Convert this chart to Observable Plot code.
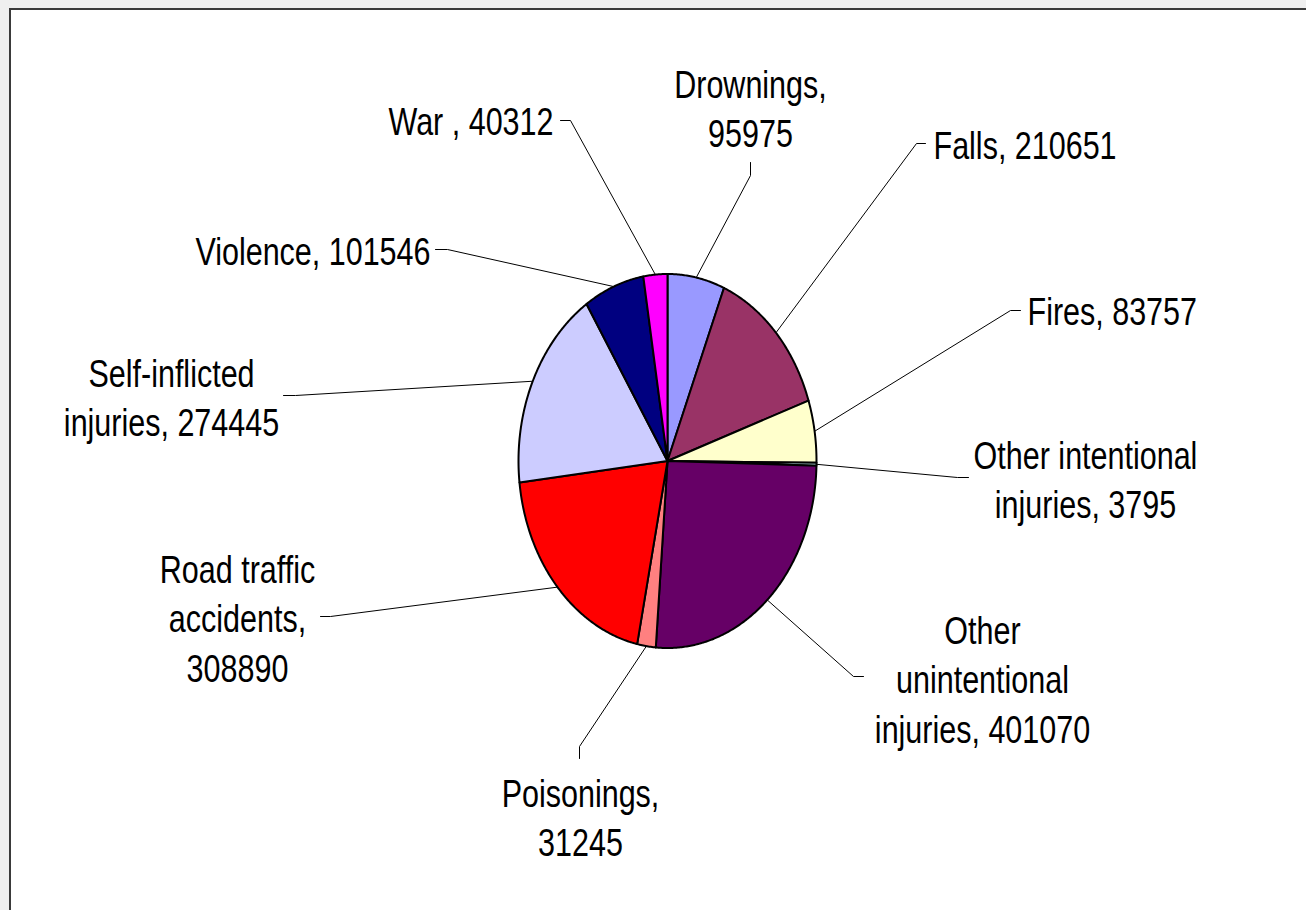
<!DOCTYPE html>
<html>
<head>
<meta charset="utf-8">
<script src="https://cdn.jsdelivr.net/npm/d3@7"></script>
<script src="https://cdn.jsdelivr.net/npm/@observablehq/plot@0.6"></script>
<style>
html, body { margin: 0; padding: 0; width: 1306px; height: 910px; overflow: hidden; background: #efefef; }
#frame { position: absolute; left: 9px; top: 8px; right: 0; bottom: 0; background: #ffffff;
  border-left: 2px solid #3a3a3a; border-top: 2px solid #3a3a3a; overflow: hidden; }
#chart { position: absolute; left: -11px; top: -10px; }
</style>
</head>
<body>
<div id="frame"><div id="chart"></div></div>
<script>
// ---- data ----
const categories = [
  "Drownings", "Falls", "Fires", "Other intentional\ninjuries", "Other\nunintentional\ninjuries",
  "Poisonings", "Road traffic\naccidents", "Self-inflicted\ninjuries", "Violence", "War "
];
const values = [95975, 210651, 83757, 3795, 401070, 31245, 308890, 274445, 101546, 40312];
const colors = ["#9999FF", "#993366", "#FFFFCC", "#CCFFFF", "#660066", "#FF8080", "#FF0000", "#CCCCFF", "#000080", "#FF00FF"];

// ---- layout (pixels) ----
const pie = {cx: 667, cy: 460.5, rx: 149, ry: 187};
const labelSep = [",\n", ", ", ", ", ", ", ", ", ",\n", ",\n", ", ", ", ", ", "];
const labelAnchor = [[750, 106], [933, 143], [1027, 309], [1085, 477], [982, 677],
  [580, 815], [237, 616], [171, 395], [430, 249], [553, 119]];
const labelAlign = ["middle", "start", "start", "middle", "middle", "middle", "middle", "middle", "end", "end"];
const leaderElbow = [[750, 175], [916, 143], [1010, 310], [957, 477], [853, 676],
  [579, 746], [330, 616], [295, 395], [447, 249], [570, 120]];
const leaderEnd = [[750, 162], [925, 143], [1020, 310], [968, 477], [863, 676],
  [579, 758], [320, 616], [283, 395], [435, 249], [560, 120]];

// ---- build geometry from the values ----
const total = d3.sum(values);
const px = t => pie.cx + pie.rx * Math.sin(t);
const py = t => pie.cy - pie.ry * Math.cos(t);
const slicePts = [];
const leaders = [];
const labels = [];
let acc = 0;
categories.forEach((c, i) => {
  const a0 = acc / total * 2 * Math.PI;
  acc += values[i];
  const a1 = acc / total * 2 * Math.PI;
  const n = Math.max(2, Math.ceil((a1 - a0) / (Math.PI / 360)));
  slicePts.push({name: c, color: colors[i], x: pie.cx, y: pie.cy});
  for (let k = 0; k <= n; k++) {
    const t = a0 + (a1 - a0) * k / n;
    slicePts.push({name: c, color: colors[i], x: px(t), y: py(t)});
  }
  slicePts.push({name: c, color: colors[i], x: pie.cx, y: pie.cy});
  const am = (a0 + a1) / 2;
  leaders.push({name: c, x: px(am), y: py(am)});
  leaders.push({name: c, x: leaderElbow[i][0], y: leaderElbow[i][1]});
  leaders.push({name: c, x: leaderEnd[i][0], y: leaderEnd[i][1]});
  labels.push({name: c, text: c + labelSep[i] + values[i], x: labelAnchor[i][0], y: labelAnchor[i][1], align: labelAlign[i]});
});

const textOpts = align => ({
  x: "x", y: "y", text: "text", textAnchor: align, lineAnchor: "middle",
  filter: d => d.align === align,
  fontFamily: "'Liberation Sans', Arial, sans-serif", fontSize: 30.5, lineHeight: 1.31, fill: "#000"
});

const svg = Plot.plot({
  width: 1306, height: 910, margin: 0,
  x: {domain: [0, 1306], range: [0, 1306], axis: null},
  y: {domain: [0, 910], range: [0, 910], axis: null},
  color: {type: "identity"},
  style: {background: "transparent", overflow: "visible"},
  marks: [
    Plot.line(leaders, {x: "x", y: "y", z: "name", stroke: "#000", strokeWidth: 1, strokeLinejoin: "miter", curve: "linear"}),
    Plot.line(slicePts, {x: "x", y: "y", z: "name", fill: "color", stroke: "#000", strokeWidth: 2, strokeLinejoin: "round", curve: "linear"}),
    Plot.text(labels, textOpts("middle")),
    Plot.text(labels, textOpts("start")),
    Plot.text(labels, textOpts("end"))
  ]
});

// The original chart was stretched vertically: stretch the label glyphs the same way.
svg.querySelectorAll("text").forEach(t => {
  const tr = t.getAttribute("transform");
  if (tr) {
    t.setAttribute("transform", tr + " scale(1,1.25)");
  } else {
    const x = +t.getAttribute("x") || 0, y = +t.getAttribute("y") || 0;
    t.removeAttribute("x"); t.removeAttribute("y");
    t.setAttribute("transform", `translate(${x},${y}) scale(1,1.25)`);
    t.querySelectorAll("tspan").forEach(s => { if (s.hasAttribute("x")) s.setAttribute("x", 0); });
  }
});
document.getElementById("chart").appendChild(svg);
</script>
</body>
</html>
